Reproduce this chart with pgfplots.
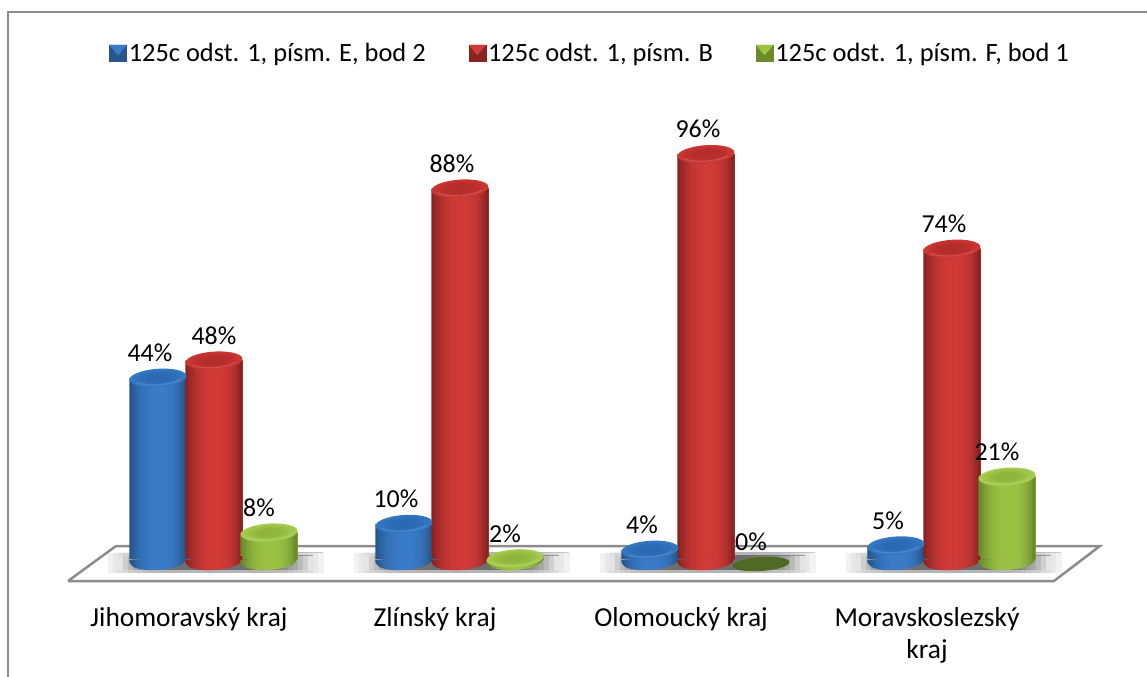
\documentclass[border=0pt]{standalone}
\usepackage{pgfplots}
\usepackage{pgfplotstable}
\usepackage{fontspec}
\setmainfont{Carlito}
\pgfplotsset{compat=1.18}

\definecolor{bEdge}{HTML}{27568F}\definecolor{bMid}{HTML}{3A7BC8}\definecolor{bTop}{HTML}{2A68B0}\definecolor{bRim}{HTML}{3478C4}
\definecolor{rEdge}{HTML}{8A2422}\definecolor{rMid}{HTML}{D03A37}\definecolor{rTop}{HTML}{B02C2A}\definecolor{rRim}{HTML}{CC3633}
\definecolor{gEdge}{HTML}{6A8A2C}\definecolor{gMid}{HTML}{9CC244}\definecolor{gTop}{HTML}{8DB23A}\definecolor{gRim}{HTML}{A6CC50}
\definecolor{gZero}{HTML}{4F6A22}
\definecolor{rule}{HTML}{8C8C8C}

% share of the bright colour in strip k (0..18) of a cylinder
\newcommand\stripP[1]{%
  \pgfmathsetmacro\u{abs(#1<10 ? (#1-10)/10 : (#1-10)/8)}%
  \pgfmathtruncatemacro\p{100*(1-\u^2.5)}}

% cylinder ends, drawn at data points
\newcommand\cylends[2]{%
  \pgfdeclareplotmark{base#1}{%
    \begin{pgfscope}%
    \pgftransformxshift{#2bp}\pgftransformrotate{4}%
    \foreach \k in {0,...,18}{%
      \stripP{\k}%
      \pgfmathsetmacro\xa{-28.5+3*\k}%
      \pgfmathsetmacro\xb{min(28.5,\xa+3.3)}%
      \pgfmathsetmacro\ya{-9*sqrt(max(0,1-(\xa/28.5)^2))}%
      \pgfmathsetmacro\yb{-9*sqrt(max(0,1-(\xb/28.5)^2))}%
      \begin{pgfscope}%
      \pgfsetfillcolor{#1Mid!\p!#1Edge}%
      \pgfpathmoveto{\pgfpoint{\xa bp}{3bp}}%
      \pgfpathlineto{\pgfpoint{\xb bp}{3bp}}%
      \pgfpathlineto{\pgfpoint{\xb bp}{\yb bp}}%
      \pgfpathlineto{\pgfpoint{\xa bp}{\ya bp}}%
      \pgfpathclose
      \pgfusepath{fill}%
      \end{pgfscope}%
    }%
    \end{pgfscope}}%
  \pgfdeclareplotmark{top#1}{%
    \begin{pgfscope}%
    \pgftransformxshift{#2bp}\pgftransformrotate{4}%
    \foreach \r/\q in {1/100,0.9/85,0.8/65,0.7/45,0.55/25,0.4/10}{%
      \begin{pgfscope}%
      \pgfsetfillcolor{#1Rim!\q!#1Top}%
      \pgfpathellipse{\pgfpointorigin}{\pgfpoint{\r*28.5bp}{0pt}}{\pgfpoint{0pt}{\r*9bp}}%
      \pgfusepath{fill}%
      \end{pgfscope}%
    }%
    \pgfsetstrokecolor{#1Rim!70!white}\pgfsetlinewidth{1.2bp}\pgfsetstrokeopacity{.45}%
    \pgfpathmoveto{\pgfpointpolar{205}{24bp and 7bp}}%
    \pgfpatharc{205}{335}{24bp and 7bp}%
    \pgfusepath{stroke}%
    \end{pgfscope}}%
}
\cylends{b}{-31}
\cylends{r}{25}
\cylends{g}{80}
\pgfdeclareplotmark{zerog}{%
  \begin{pgfscope}%
  \pgftransformshift{\pgfpoint{80bp}{3bp}}\pgftransformrotate{4}%
  \pgfsetfillcolor{gZero}%
  \pgfpathellipse{\pgfpointorigin}{\pgfpoint{28.5bp}{0pt}}{\pgfpoint{0pt}{7bp}}%
  \pgfusepath{fill}%
  \end{pgfscope}}

\newcommand\swatch[2]{%
  \fill[#1] (0bp,-8bp) rectangle (17bp,8bp);
  \fill[#2] (0bp,8bp) -- (17bp,8bp) -- (8.5bp,-2bp) -- cycle;}

% category 0..3: value in per cent, dx = label offset from the category centre
\pgfplotstableread{
x y dx
0 44 -39
1 10 -39
2 4 -39
3 5 -39
}\blue
\pgfplotstableread{
x y dx
0 48 25
1 88 17
2 96 17
3 74 17
}\red
\pgfplotstableread{
x y dx
0 8 70
1 2 70
3 21 70
}\green
\pgfplotstableread{
x y dx
2 0 70
}\greenzero

% painter's strips of a series' cylinder bodies: each runs from its left edge to the bar's right edge
\newcommand\bodystrips[3]{% table, centre shift, colour letter
  \pgfplotsinvokeforeach{0,...,18}{%
    \stripP{##1}%
    \pgfmathsetmacro\w{57-3*##1}%
    \pgfmathsetmacro\s{#2-28.5+3*##1+\w/2}%
    \edef\temp{\noexpand\addplot[forget plot,ybar,bar width=\w bp,bar shift=\s bp,draw=none,
      fill=#3Mid!\p!#3Edge] table[x=x,y=y] {\noexpand#1};}%
    \temp
  }}

% floor shadow strips at every category:
% #1 strip from the left, #2 peak darkness, #3 up, #4 down, #5 left end, #6 total width
\newcommand\shadowstrip[6]{%
  \pgfmathsetmacro\w{#6-5*#1}%
  \pgfmathsetmacro\s{#5+5*#1+\w/2}%
  \pgfmathsetmacro\u{abs((#1-#6/10)/(#6/10))}%
  \pgfmathtruncatemacro\p{#2*(1-\u^4)}%
  \edef\temp{\noexpand\addplot[forget plot,ybar,bar width=\w bp,bar shift=\s bp,
     draw=black!\p!white,line width=0.4bp,fill=black!\p!white]
     coordinates {(0,#3) (0,#4) (1,#3) (1,#4) (2,#3) (2,#4) (3,#3) (3,#4)};}%
  \temp}

\pgfplotsset{
  lab/.style={
    only marks,point meta=explicit,
    visualization depends on={\thisrow{dx}\as\dx},
    nodes near coords={\pgfmathprintnumber{\pgfplotspointmeta}\%},
    every node near coord/.append style={font=\fontsize{26}{30}\selectfont,anchor=center,
      xshift=\dx bp,yshift=25bp,text=black},
  },
}

\begin{document}
\begin{tikzpicture}
\useasboundingbox (0,0) rectangle (1147bp,677bp);
\begin{axis}[
  at={(0,0)},anchor=south west,
  scale only axis,width=1147bp,height=677bp,
  xmin=-0.76829,xmax=3.89431,ymin=-25.58,ymax=131.86,
  y coord trafo/.code={\pgfmathparse{#1-1.86}},
  clip=false,
  axis line style={draw=none},
  major tick style={draw=none},
  ytick=\empty,
  xtick={0,1,2,3},
  xticklabels={Jihomoravský kraj,Zlínský kraj,Olomoucký kraj,{Moravskoslezský\\kraj}},
  xticklabel style={align=center,font=\fontsize{27.5}{32}\selectfont,yshift=73bp},
  /pgf/number format/assume math mode=true,
  legend columns=3,
  legend cell align=left,
  legend style={at={(0.5145,0.9217)},anchor=center,draw=none,fill=none,
    font=\fontsize{26.5}{30}\selectfont,
    /tikz/every even column/.append style={column sep=41bp}},
]
% frame
\addplot[forget plot,rule,line width=2bp,no marks] coordinates {(-0.7358,-25.58) (-0.7358,129.07) (3.89431,129.07)};
% floor
\addplot[forget plot,draw=none,fill=white,no marks] coordinates {(-0.4919,-3.26) (3.5163,-3.26) (3.7033,4.88) (-0.2967,4.88) (-0.4919,-3.26)};
% shadows: an outer soft band, then an inner dark band
\pgfplotsinvokeforeach{1,...,43}{\shadowstrip{#1}{30}{3.26}{-1.16}{-86}{220}}
\pgfplotsinvokeforeach{1,...,39}{\shadowstrip{#1}{58}{2.56}{-0.47}{-76}{200}}
\addplot[forget plot,rule,line width=2.5bp,no marks] coordinates {(-0.4919,-3.26) (3.5163,-3.26) (3.7033,4.88) (-0.2967,4.88) (-0.4919,-3.26)};

% blue
\addplot[forget plot,only marks,mark=baseb] coordinates {(0,1.4) (1,1.4) (2,1.4) (3,1.4)};
\bodystrips{\blue}{-31}{b}
\addplot[lab,mark=topb,legend image code/.code={\swatch{bEdge}{bMid}}] table[x=x,y=y,meta=y] {\blue};
\addlegendentry{125c odst. 1, písm. E, bod 2}
% red
\addplot[forget plot,only marks,mark=baser] coordinates {(0,1.4) (1,1.4) (2,1.4) (3,1.4)};
\bodystrips{\red}{25}{r}
\addplot[lab,mark=topr,legend image code/.code={\swatch{rEdge}{rMid}}] table[x=x,y=y,meta=y] {\red};
\addlegendentry{125c odst. 1, písm. B}
% green
\addplot[forget plot,only marks,mark=baseg] coordinates {(0,1.4) (1,1.4) (3,1.4)};
\bodystrips{\green}{80}{g}
\addplot[lab,mark=topg,legend image code/.code={\swatch{gEdge}{gMid}}] table[x=x,y=y,meta=y] {\green};
\addlegendentry{125c odst. 1, písm. F, bod 1}
\addplot[forget plot,lab,mark=zerog] table[x=x,y=y,meta=y] {\greenzero};
\end{axis}
\end{tikzpicture}
\end{document}
